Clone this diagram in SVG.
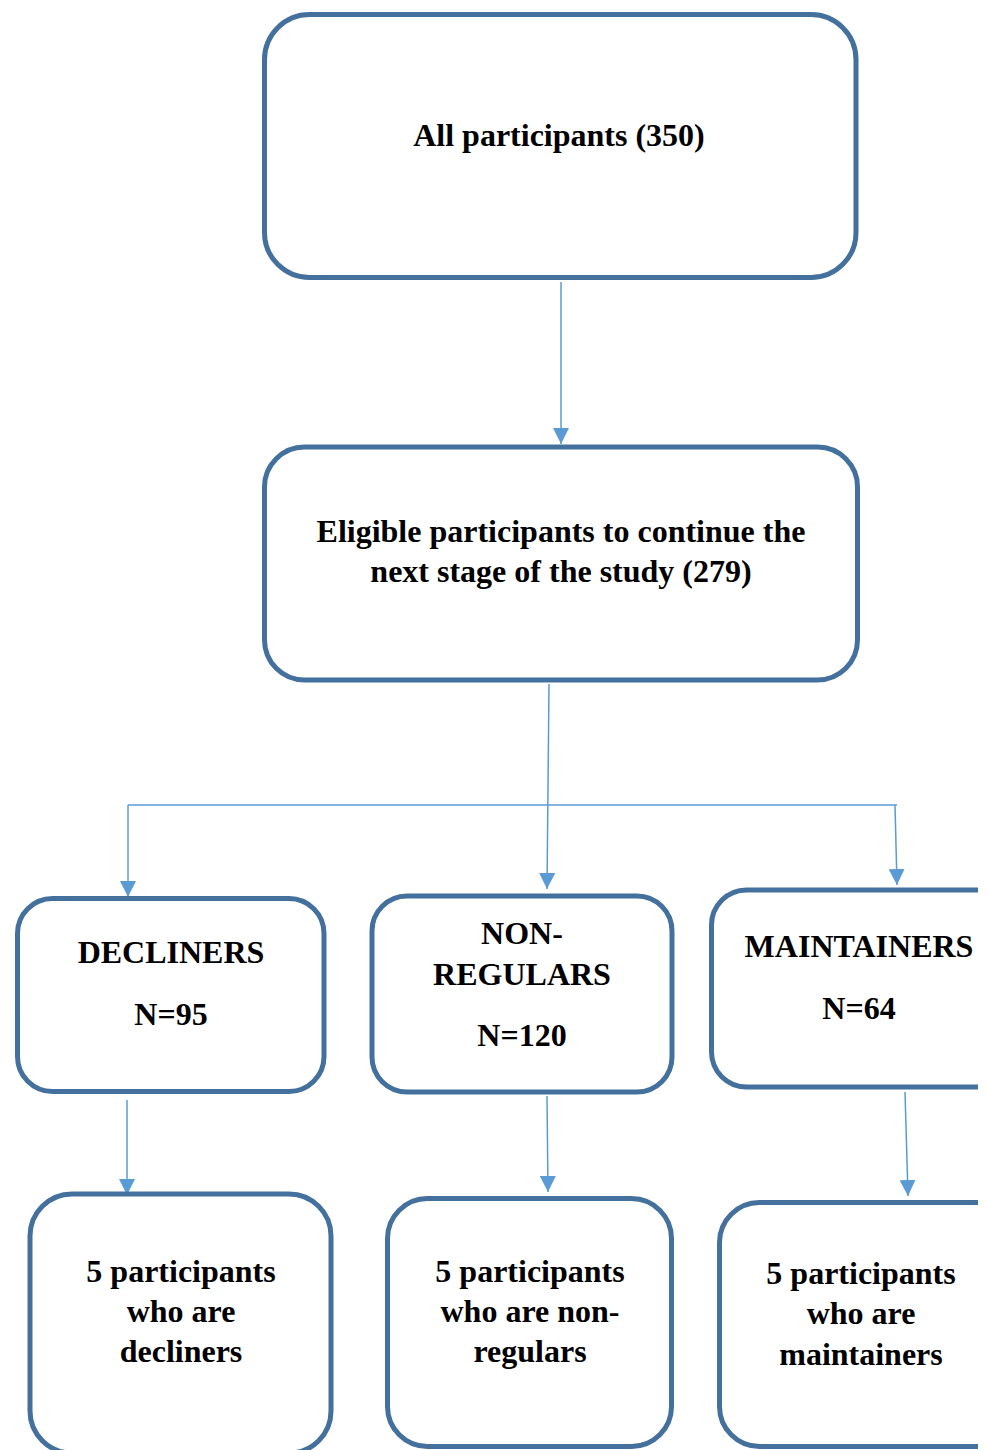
<svg xmlns="http://www.w3.org/2000/svg" width="988" height="1450" viewBox="0 0 988 1450">
<style>
.box{fill:#fff;stroke:#44709D;stroke-width:5}
.t{font-family:"Liberation Serif","Times New Roman",serif;font-weight:bold;font-size:32px;fill:#000;text-anchor:middle}
.c{stroke:#5B9BD5;stroke-width:1.5;fill:none}
</style>
<defs>
<marker id="ad" markerUnits="userSpaceOnUse" markerWidth="16" markerHeight="16" viewBox="0 0 16 16" refX="16" refY="8" orient="auto">
<path d="M0,0 L16,8 L0,16 Z" fill="#5B9BD5"/>
</marker>
<clipPath id="cl"><rect x="0" y="0" width="978" height="1450"/></clipPath>
</defs>
<rect width="988" height="1450" fill="#fff"/>
<g clip-path="url(#cl)">
<g id="connectors">
<line class="c" x1="561" y1="282" x2="561" y2="444" marker-end="url(#ad)"/>
<line class="c" x1="549" y1="684" x2="547" y2="889" marker-end="url(#ad)"/>
<polyline class="c" points="897,805 128,805"/>
<line class="c" x1="128" y1="805" x2="128" y2="897" marker-end="url(#ad)"/>
<line class="c" x1="895" y1="805" x2="897" y2="885" marker-end="url(#ad)"/>
<line class="c" x1="127" y1="1100" x2="127" y2="1195" marker-end="url(#ad)"/>
<line class="c" x1="547" y1="1096" x2="548" y2="1192" marker-end="url(#ad)"/>
<line class="c" x1="905" y1="1092" x2="908" y2="1196" marker-end="url(#ad)"/>
</g>
<g id="all">
<rect class="box" x="264.5" y="14.5" width="591.5" height="263" rx="45"/>
<text class="t" x="559" y="146">All participants (350)</text>
</g>
<g id="eligible">
<rect class="box" x="264.5" y="447" width="593" height="233" rx="40"/>
<text class="t" x="561" y="542">Eligible participants to continue the</text>
<text class="t" x="561" y="582">next stage of the study (279)</text>
</g>
<g id="decliners">
<rect class="box" x="17.5" y="898.5" width="306.5" height="193" rx="35"/>
<text class="t" x="171" y="963">DECLINERS</text>
<text class="t" x="171" y="1025">N=95</text>
</g>
<g id="nonregulars">
<rect class="box" x="372" y="896" width="300" height="196" rx="35"/>
<text class="t" x="522" y="944">NON-</text>
<text class="t" x="522" y="985">REGULARS</text>
<text class="t" x="522" y="1046">N=120</text>
</g>
<g id="maintainers">
<rect class="box" x="711.5" y="890" width="300" height="197" rx="35"/>
<text class="t" x="859" y="957">MAINTAINERS</text>
<text class="t" x="859" y="1019">N=64</text>
</g>
<g id="decliners5">
<rect class="box" x="30" y="1194" width="301" height="259" rx="42"/>
<text class="t" x="181" y="1282">5 participants</text>
<text class="t" x="181" y="1322">who are</text>
<text class="t" x="181" y="1362">decliners</text>
</g>
<g id="nonregulars5">
<rect class="box" x="387.5" y="1198.5" width="284" height="248" rx="40"/>
<text class="t" x="530" y="1282">5 participants</text>
<text class="t" x="530" y="1322">who are non-</text>
<text class="t" x="530" y="1362">regulars</text>
</g>
<g id="maintainers5">
<rect class="box" x="719.5" y="1202.5" width="300" height="244" rx="40"/>
<text class="t" x="861" y="1284">5 participants</text>
<text class="t" x="861" y="1324">who are</text>
<text class="t" x="861" y="1365">maintainers</text>
</g>
</g>
</svg>
